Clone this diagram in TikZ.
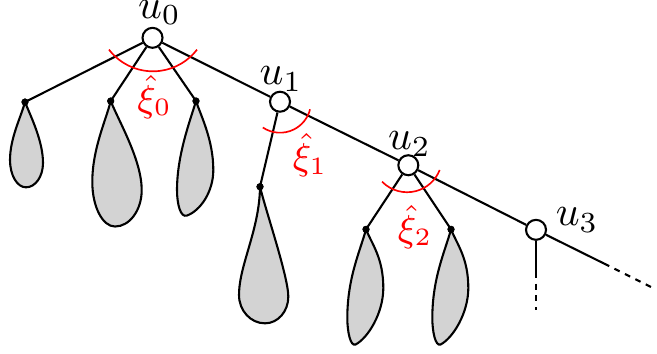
\documentclass[tikz,border=0pt]{standalone}
\usetikzlibrary{calc}
\definecolor{blobgray}{RGB}{211,211,211}
\begin{document}
\begin{tikzpicture}[x=0.24pt,y=0.24pt,
  vert/.style={circle,draw,fill=white,line width=0.5pt,minimum size=4.8pt,inner sep=0pt},
  leafdot/.style={circle,fill=black,minimum size=1.7pt,inner sep=0pt},
  edge/.style={line width=0.5pt},
  dashedge/.style={line width=0.5pt,dash pattern=on 1.4pt off 1.4pt},
  blob/.style={line width=0.5pt,fill=blobgray,draw=black,line join=round},
  anglearc/.style={red,line width=0.4pt},
  lab/.style={inner sep=0pt},
  rlab/.style={inner sep=0pt,text=red,font=\fontsize{9}{11}\selectfont}]
\useasboundingbox (0,0) rectangle (657,-353);
% main vertices
\node[vert] (u0) at (152.5,-37.8) {};
\node[vert] (u1) at (280,-101.7) {};
\node[vert] (u2) at (408.3,-165.2) {};
\node[vert] (u3) at (536,-229.8) {};
% leaf dots
\node[leafdot] (a1) at (25,-102) {};
\node[leafdot] (a2) at (110.7,-101) {};
\node[leafdot] (a3) at (196,-101) {};
\node[leafdot] (b1) at (260,-186.7) {};
\node[leafdot] (c1) at (366,-229.3) {};
\node[leafdot] (c2) at (451,-229.3) {};
% ends
\coordinate (e1) at (604,-263.5);
\coordinate (e2) at (654,-288.5);
\coordinate (d1) at (536,-272);
\coordinate (d2) at (536,-310);
% blobs
\draw[blob] (25,-102) .. controls (21,-117) and (10,-138) .. (10,-160)
  .. controls (10,-175) and (17,-187.3) .. (26,-187.3)
  .. controls (35.4,-187.3) and (43,-176.5) .. (43,-163)
  .. controls (43,-141) and (31,-117) .. (25,-102) -- cycle;
\draw[blob] (110.7,-101) .. controls (105.7,-121) and (92.3,-149) .. (92.3,-182)
  .. controls (92.3,-206.6) and (102.5,-226.5) .. (115,-226.5)
  .. controls (129.7,-226.5) and (141.7,-210.1) .. (141.7,-190)
  .. controls (141.7,-160) and (118.7,-121) .. (110.7,-101) -- cycle;
\draw[blob] (196,-101) .. controls (190,-121) and (177,-155) .. (177,-190)
  .. controls (177,-204) and (180.5,-218) .. (187,-215.5)
  .. controls (200.2,-210.7) and (213.3,-192) .. (213.3,-170)
  .. controls (213.3,-140) and (201,-116) .. (196,-101) -- cycle;
\draw[blob] (260,-186.7) .. controls (259.5,-230) and (239,-265) .. (239,-295)
  .. controls (239,-310.6) and (250.6,-323.3) .. (265,-323.3)
  .. controls (277.9,-323.3) and (288.3,-311.4) .. (288.3,-296.7)
  .. controls (288.3,-276.7) and (266,-211.7) .. (260,-186.7) -- cycle;
\draw[blob] (366,-229.3) .. controls (360,-251.3) and (347.3,-278) .. (347.3,-318)
  .. controls (347.3,-332) and (350.5,-346.5) .. (355.5,-344.5)
  .. controls (368,-338) and (383.3,-313) .. (383.3,-288)
  .. controls (383.3,-258) and (372,-244.3) .. (366,-229.3) -- cycle;
\draw[blob] (451,-229.3) .. controls (445,-251.3) and (432.3,-278) .. (432.3,-318)
  .. controls (432.3,-332) and (435.5,-346.5) .. (440.5,-344.5)
  .. controls (453,-338) and (468.3,-313) .. (468.3,-288)
  .. controls (468.3,-258) and (457,-244.3) .. (451,-229.3) -- cycle;
% edges
\draw[edge] (u0) -- (u1);
\draw[edge] (u1) -- (u2);
\draw[edge] (u2) -- (u3);
\draw[edge] (u3) -- (e1);
\draw[dashedge] (e1) -- (e2);
\draw[edge] (u3) -- (d1);
\draw[dashedge] (d1) -- (d2);
\draw[edge] (u0) -- (a1.center);
\draw[edge] (u0) -- (a2.center);
\draw[edge] (u0) -- (a3.center);
\draw[edge] (u1) -- (b1.center);
\draw[edge] (u2) -- (c1.center);
\draw[edge] (u2) -- (c2.center);
% redraw dots on top
\node[leafdot] at (a1) {};
\node[leafdot] at (a2) {};
\node[leafdot] at (a3) {};
\node[leafdot] at (b1) {};
\node[leafdot] at (c1) {};
\node[leafdot] at (c2) {};
% angle arcs
\draw[anglearc] ($(u0.center)+(0.5,22)$) ++(-142.5:55.5) arc[start angle=-142.5,end angle=-37.5,radius=55.5];
\draw[anglearc] (u1.center) ++(-123.7:31) arc[start angle=-123.7,end angle=-14.2,radius=31];
\draw[anglearc] ($(u2.center)+(-1.2,8)$) ++(-135.7:35) arc[start angle=-135.7,end angle=-21.5,radius=35];
% labels
\node[lab] (l0) at (159.5,-12.5) {$u_0$};
\node[lab] (l1) at (281,-79) {$u_1$};
\node[lab] (l2) at (409.5,-144) {$u_2$};
\node[lab] (l3) at (577,-220) {$u_3$};
\node[rlab] (x0) at (154.5,-97) {$\hat{\xi}_0$};
\node[rlab] (x1) at (310,-155.5) {$\hat{\xi}_1$};
\node[rlab] (x2) at (415,-227) {$\hat{\xi}_2$};
\end{tikzpicture}
\end{document}
